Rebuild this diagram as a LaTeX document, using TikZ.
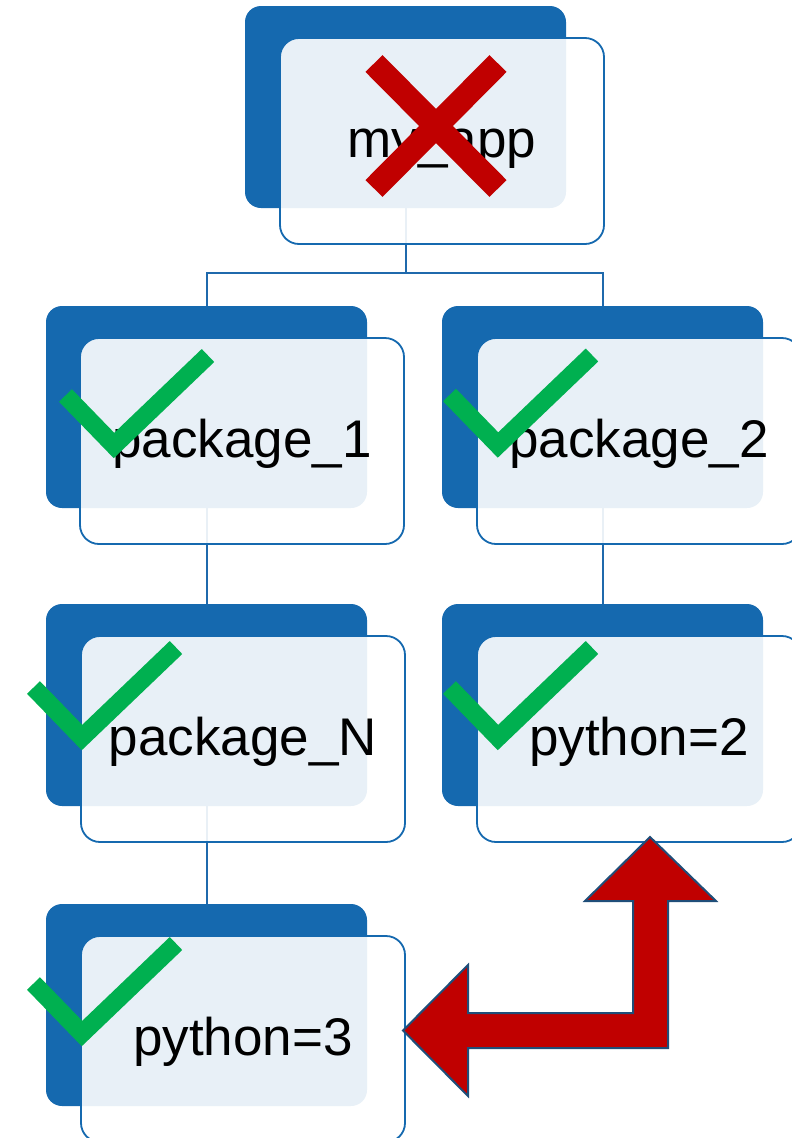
\documentclass[tikz,border=0pt]{standalone}
\usepackage{fontspec}
\setmainfont{Liberation Sans}
\definecolor{boxblue}{RGB}{21,105,175}
\definecolor{lineblue}{RGB}{31,105,172}
\definecolor{arrowred}{RGB}{192,0,0}
\definecolor{arrowedge}{RGB}{31,78,121}
\definecolor{checkgreen}{RGB}{0,176,80}
\tikzset{
  backbox/.style={rectangle, rounded corners=16pt, fill=boxblue, draw=none,
    minimum width=321pt, minimum height=202pt, inner sep=0pt, outer sep=0pt},
  frontbox/.style={rectangle, rounded corners=19pt, fill=white, fill opacity=0.9,
    text opacity=1, draw=boxblue, line width=1.8pt,
    minimum width=324pt, minimum height=206pt, inner sep=0pt, outer sep=0pt,
    font=\fontsize{53}{63}\selectfont, text height=38pt, text depth=5pt},
  link/.style={draw=lineblue, line width=2pt},
  checkmark/.style={draw=checkgreen, line width=18pt, line join=miter, line cap=butt},
  crossmark/.style={draw=arrowred, line width=24pt, line cap=butt},
  bentarrow/.style={fill=arrowred, draw=arrowedge, line width=2pt, line join=miter}
}
\begin{document}
\begin{tikzpicture}[x=1pt,y=-1pt]
\useasboundingbox (0,0) rectangle (792,1138);
\clip (0,0) rectangle (792,1138);
% back boxes
\node[backbox] (b0) at (405.5,107) {};
\node[backbox] (b1) at (206.5,407) {};
\node[backbox] (b2) at (602.5,407) {};
\node[backbox] (b3) at (206.5,705) {};
\node[backbox] (b4) at (602.5,705) {};
\node[backbox] (b5) at (206.5,1005) {};
% connectors (behind the front boxes)
\draw[link] (b0.south) -- ++(0,65) coordinate (j0);
\draw[link] (j0) -| (b1.north);
\draw[link] (j0) -| (b2.north);
\draw[link] (b1.south) -- (b3.north);
\draw[link] (b3.south) -- (b5.north);
\draw[link] (b2.south) -- (b4.north);
% front boxes with text
\node[frontbox] (f0) at (442,141) {my\_app};
\node[frontbox] (f1) at (242,441) {package\_1};
\node[frontbox] (f2) at (639,441) {package\_2};
\node[frontbox] (f3) at (243,739) {package\_N};
\node[frontbox] (f4) at (639,739) {python=2};
\node[frontbox] (f5) at (243,1039) {python=3};
% cross
\draw[crossmark] (374,63.5) -- (498,188.5);
\draw[crossmark] (498,63.5) -- (374,188.5);
% checks
\foreach \vx/\vy in {114/445.5, 498/445, 82/737.5, 498/737.5, 82/1033.5}{
  \draw[checkmark] (\vx-48.5,\vy-50) -- (\vx,\vy) -- (\vx+94,\vy-90);
}
% bent arrow
\draw[bentarrow] (650,837) -- (716,901) -- (668,901) -- (668,1048) -- (468,1048)
  -- (468,1096) -- (403,1030.5) -- (468,965) -- (468,1013) -- (633,1013)
  -- (633,901) -- (585,901) -- cycle;
\end{tikzpicture}
\end{document}
